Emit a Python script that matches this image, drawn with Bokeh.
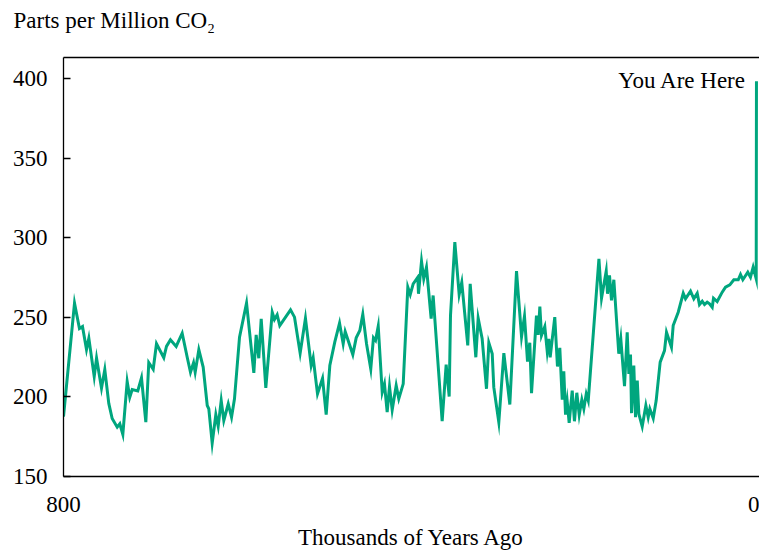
from bokeh.plotting import figure
from bokeh.models import Range1d, FixedTicker, LinearAxis, Label, Title
from bokeh.embed import file_html
from bokeh.resources import INLINE

# ---- data (thousands of years ago, CO2 ppm) ----
years_ago = [
    800, 787.3, 781.6, 778.1, 773.5, 770.8, 764.6, 761.9, 756.2, 752.4,
    747.8, 743.9, 738.1, 735.1, 731.6, 726.6, 723.6, 720.8, 714.4, 710.1,
    705.1, 701.7, 696.6, 692.8, 684.4, 681.3, 676.7, 670.1, 663.2, 657.4,
    653.6, 650.1, 648.2, 644.0, 639.0, 634.3, 632.5, 628.6, 624.4, 621.7,
    618.2, 615.2, 610.1, 606.3, 602.9, 597.1, 589.0, 580.6, 577.9, 574.9,
    572.1, 566.8, 559.4, 556.8, 553.7, 550.7, 538.3, 533.7, 527.2, 521.1,
    514.5, 512.2, 507.2, 501.4, 497.2, 493.0, 487.3, 481.8, 477.6, 475.3,
    466.5, 462.6, 458.4, 455.0, 450.7, 445.8, 442.7, 440.3, 437.2, 432.6,
    430.0, 426.9, 424.2, 421.1, 416.5, 413.5, 408.4, 403.1, 400.3, 396.9,
    391.6, 390.8, 387.3, 384.7, 381.6, 376.2, 373.9, 363.5, 358.9, 355.4,
    353.9, 348.9, 343.9, 340.9, 334.0, 331.2, 324.7, 322.0, 317.4, 312.4,
    309.7, 305.8, 304.0, 298.2, 292.4, 285.5, 277.8, 272.0, 268.6, 265.1,
    262.5, 260.5, 254.8, 252.8, 250.9, 249.0, 245.2, 242.4, 240.6, 239.0,
    233.7, 230.6, 227.9, 225.1, 223.3, 221.3, 219.4, 217.1, 213.6, 211.0,
    208.3, 205.5, 202.5, 200.2, 197.4, 195.1,
    182.8, 179.8, 174.4, 172.9, 170.6, 168.3, 165.6, 159.9, 157.6, 153.3,
    150.2, 148.3, 146.4, 145.2, 142.6, 140.6, 138.6, 136.8, 132.9, 128.7,
    126.0, 124.1, 120.2, 116.8, 112.2, 107.2, 104.9, 99.2, 97.2, 91.4,
    85.6, 83.0, 77.2, 73.4, 69.5, 66.9, 63.7, 61.1, 58.0, 55.3,
    52.2, 50.7, 46.5, 40.7, 36.9, 31.9, 27.3, 22.2, 19.6, 16.9,
    11.2, 8.1, 5.0, 1.5, 1.2,
]
co2_ppm = [
    187.7, 258.9, 243.0, 244.2, 229.8, 236.9, 212.8, 224.3, 205.5, 217.2,
    195.9, 186.4, 181.0, 183.1, 176.4, 209.7, 199.8, 204.6, 203.8, 212.0,
    184.1, 221.6, 217.4, 233.4, 224.6, 231.7, 235.9, 231.7, 240.0, 224.9,
    215.5, 221.4, 215.5, 229.6, 218.7, 194.6, 192.5, 170.9, 188.9, 181.6,
    197.7, 185.2, 195.7, 187.2, 198.8, 237.5, 258.9, 215.1, 239.0, 224.3,
    249.1, 205.7, 253.2, 248.6, 251.6, 244.8, 254.7, 250.1, 227.5, 249.4,
    219.7, 224.6, 201.9, 211.7, 188.9, 219.7, 234.4, 246.3, 233.4, 241.1,
    226.6, 237.1, 241.7, 251.9, 233.4, 217.6, 237.1, 235.4, 244.4, 202.9,
    208.2, 190.4, 206.5, 191.9, 207.2, 198.8, 208.2, 268.9, 264.3, 271.0,
    275.2, 264.8, 285.2, 274.2, 281.5, 249.1, 263.7, 184.7, 220.3, 200.2,
    251.1, 297.2, 264.3, 272.0, 232.3, 271.0, 224.9, 249.4, 236.5, 205.1,
    234.0, 227.1, 206.1, 184.1, 227.5, 195.2, 279.0, 237.9, 250.7, 222.2,
    234.0, 202.3, 251.1, 239.0, 256.8, 238.6, 244.2, 228.7, 236.5, 224.9,
    250.1, 219.1, 230.8, 198.2, 216.1, 188.9, 197.3, 183.7, 204.0, 184.7,
    202.6, 188.8, 198.2, 192.5, 201.9, 197.7,
    286.7, 262.0, 279.0, 264.8, 276.3, 260.6, 273.6, 227.1, 236.5, 206.7,
    240.6, 214.5, 226.6, 189.8, 219.7, 187.2, 210.3, 189.4, 181.4, 194.6,
    187.2, 192.5, 186.6, 197.7, 221.8, 229.1, 240.6, 231.2, 244.8, 253.2,
    265.1, 261.6, 266.4, 261.6, 265.1, 258.0, 260.1, 258.0, 259.5, 258.5,
    256.3, 262.0, 259.9, 265.8, 268.9, 270.4, 273.6, 273.6, 276.9, 273.6,
    278.3, 275.2, 281.5, 274.2, 398.3,
]
y_ticks = [150, 200, 250, 300, 350, 400]
x_ticks = [800, 0]
title_text = "Parts per Million CO\u2082"
x_label = "Thousands of Years Ago"
note_text = "You Are Here"
note_x = 13
note_y = 398.7

FONT = "Liberation Serif"
FS = "23px"
GREEN = "#00A67E"

p = figure(width=759, height=552, output_backend="svg", toolbar_location=None,
           x_range=Range1d(800, -2.3), y_range=Range1d(150, 413.2),
           min_border_left=63, min_border_right=0, min_border_top=57,
           min_border_bottom=76, background_fill_color="white",
           border_fill_color="white")
p.grid.visible = False
p.outline_line_color = None

p.line(years_ago, co2_ppm, line_color=GREEN, line_width=3, line_join="miter")

# y axis
ya = p.yaxis[0]
ya.ticker = FixedTicker(ticks=y_ticks)
ya.major_tick_in = 7
ya.major_tick_out = 0
ya.minor_tick_line_color = None
ya.axis_line_color = "black"
ya.axis_line_width = 1.3
ya.major_tick_line_width = 1.3
ya.major_label_standoff = 16
ya.major_label_text_font = FONT
ya.major_label_text_font_size = FS
ya.major_label_text_color = "black"

# x axis
xa = p.xaxis[0]
xa.ticker = FixedTicker(ticks=x_ticks)
xa.major_tick_line_color = None
xa.major_tick_in = 0
xa.major_tick_out = 0
xa.minor_tick_line_color = None
xa.axis_line_color = "black"
xa.axis_line_width = 1.3
xa.major_label_standoff = 20
xa.major_label_text_font = FONT
xa.major_label_text_font_size = FS
xa.major_label_text_color = "black"
xa.axis_label = x_label
xa.axis_label_text_font = FONT
xa.axis_label_text_font_size = FS
xa.axis_label_text_font_style = "normal"
xa.axis_label_text_color = "black"
xa.axis_label_standoff = 10

# top border line
top = LinearAxis(ticker=FixedTicker(ticks=[]), major_label_text_font_size="0px",
                 axis_line_color="black", axis_line_width=1.3,
                 major_tick_line_color=None, minor_tick_line_color=None,
                 major_tick_in=0, major_tick_out=0, major_label_standoff=0,
                 axis_label_standoff=0)
p.add_layout(top, "above")

# chart title: a blank second line lifts the text well above the frame
p.title = Title(text=title_text + "\n ", align="left", offset=-50,
                vertical_align="bottom", text_font=FONT, text_font_size=FS,
                text_font_style="normal", text_color="black", standoff=0)

p.add_layout(Label(x=note_x, y=note_y, text=note_text, text_align="right",
                   text_baseline="middle", text_font=FONT, text_font_size=FS,
                   text_color="black"))

open("out.html", "w").write(file_html(p, INLINE))
